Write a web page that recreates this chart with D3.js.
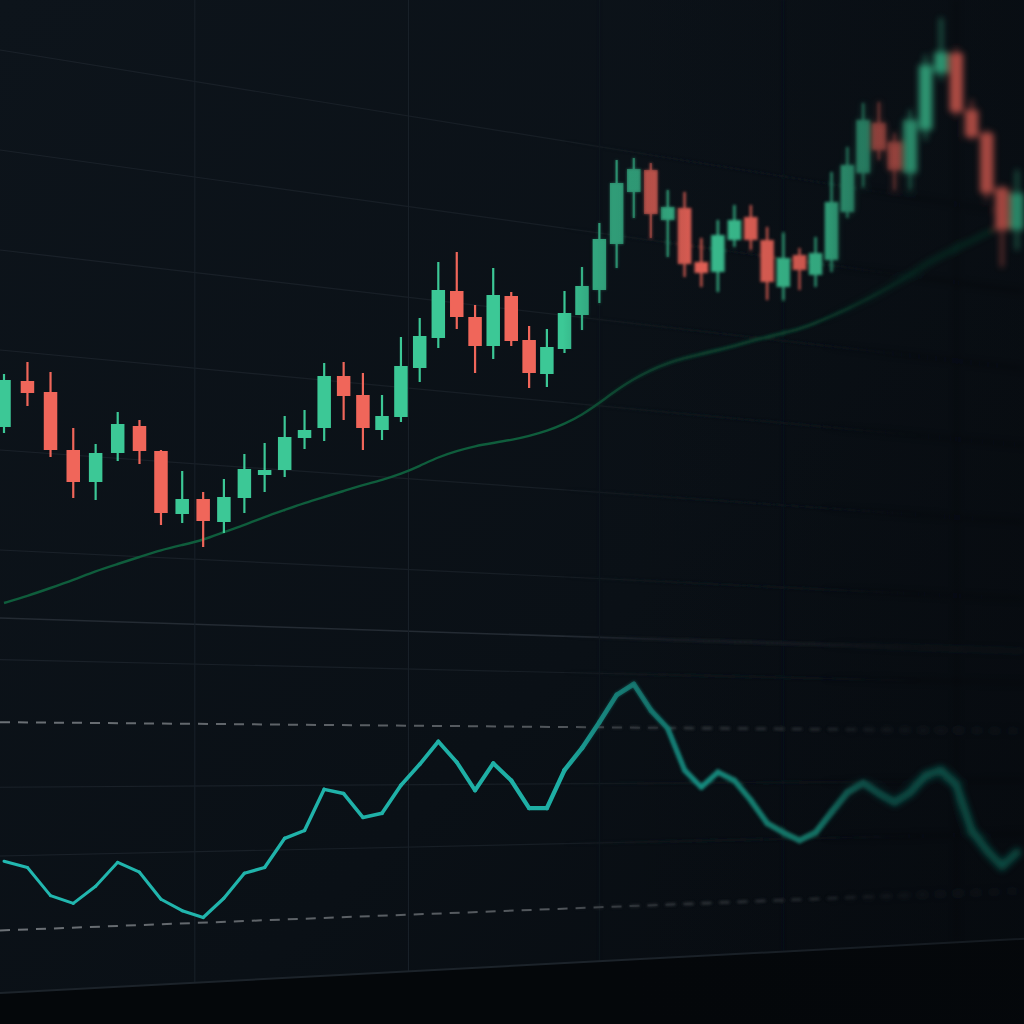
<!DOCTYPE html>
<html><head><meta charset="utf-8">
<script src="https://cdn.jsdelivr.net/npm/d3@7"></script>
<style>html,body{margin:0;padding:0;background:#0b1117;overflow:hidden}svg{display:block}</style>
</head><body>
<svg id="chart" width="1024" height="1024"></svg>
<script>
// ---- data ----
const opens  = [117.3,121.9,120.8,115.0,111.8,114.7,117.4,114.9,108.6,110.1,107.8,110.2,112.5,113.0,116.2,117.2,122.4,120.5,117.0,118.3,123.2,126.2,130.9,128.3,125.4,130.4,126.0,122.6,125.1,128.5,131.0,135.6,140.8,143.0,138.0,139.2,133.8,132.8,136.0,138.3,136.0,131.3,134.5,132.5,134.0,138.8,142.7,147.7,145.8,142.7,147.0,152.7,154.7,149.0,146.7,141.2,137.0];
const highs  = [122.6,123.8,122.8,117.2,115.6,118.8,118.0,115.0,112.9,110.8,112.1,114.6,115.7,118.4,119.0,123.7,123.8,122.7,120.5,126.3,128.2,133.8,134.8,129.5,133.2,130.8,127.4,127.1,130.9,133.3,137.7,144.0,144.2,143.7,141.0,140.8,136.2,138.0,139.5,139.5,137.3,136.7,135.2,136.3,142.8,145.3,149.7,149.8,146.7,149.0,154.5,158.2,155.0,150.0,147.0,141.5,143.0];
const lows   = [116.7,119.4,114.3,110.2,110.0,113.9,113.6,107.5,107.7,105.3,106.7,108.7,110.8,112.3,115.1,115.9,118.0,115.0,116.0,117.8,121.8,125.2,127.1,122.7,124.1,125.4,121.2,121.3,124.7,127.0,129.7,133.2,138.2,136.2,134.3,132.3,131.3,130.8,135.3,135.0,130.0,130.0,131.0,131.3,132.8,138.2,141.3,144.0,141.0,141.0,146.0,152.0,148.5,146.0,140.0,133.3,135.0];
const closes = [122.0,120.7,115.0,111.8,114.7,117.6,114.9,108.7,110.1,107.9,110.3,113.1,113.0,116.3,117.0,122.4,120.4,117.2,118.4,123.4,126.4,131.0,128.3,125.4,130.5,125.9,122.7,125.3,128.7,131.4,136.1,141.7,143.1,138.6,139.3,133.6,132.7,136.5,138.0,136.0,131.8,134.2,133.0,134.7,139.8,143.5,148.0,145.0,143.0,148.0,153.5,154.8,148.8,146.3,140.7,137.0,140.7];
const movingAvg = [99.7,100.4,101.2,102.0,102.9,103.6,104.3,105.0,105.5,106.0,106.8,107.5,108.3,109.0,109.7,110.3,110.9,111.5,112.0,112.6,113.4,114.3,114.9,115.4,115.7,116.0,116.4,116.9,117.6,118.5,119.7,121.0,122.1,123.0,123.7,124.2,124.6,125.0,125.4,125.9,126.3,126.7,127.1,127.7,128.4,129.1,129.9,130.7,131.6,132.5,133.6,134.4,135.2,135.9,136.7,137.4,138.1];
const rsiValues = [43.3,42.1,36.7,35.2,38.5,43.1,41.2,36.0,33.8,32.5,36.2,41.0,42.1,47.7,49.2,57.1,56.3,51.7,52.5,57.9,61.9,66.3,62.3,56.9,62.1,58.8,53.5,53.5,60.8,65.0,70.0,75.2,77.3,72.3,68.8,60.8,57.5,60.4,58.8,55.0,50.6,48.8,47.3,48.8,52.7,56.5,58.3,56.3,54.6,56.5,59.8,60.8,57.9,49.2,45.4,42.3,45.0];
const priceGridLevels = [105,115,125,135,145,155];
const rsiGridLevels = [82,57.5,44.3];
const rsiGuideLevels = [70,30];
const verticalGridIdx = [8.6,19.4,30,41,52];

const candles = opens.map((o,i)=>({i, o, h:highs[i], l:lows[i], c:closes[i]}));

// ---- scales ----
const W = 1024, H = 1024;
const xPow = d3.scalePow().exponent(0.66).domain([20, 76]).range([4, 1017]);
const x = i => xPow(i + 20);
const y = d3.scaleLinear().domain([100, 160]).range([600, 0]);
const yr = d3.scaleLinear().domain([18, 90]).range([993, 618]);

// perspective tilt for horizontal rules (vanishing point off to the right)
const VPX = 4400, VPY = 760;
const tilt = (px, y0) => y0 + (VPY - y0) * px / VPX;

const svg = d3.select('#chart');
const defs = svg.append('defs');

// background
const bg = defs.append('linearGradient').attr('id','bgGrad').attr('x1',0).attr('y1',0).attr('x2',1).attr('y2',1);
bg.append('stop').attr('offset','0%').attr('stop-color','#0d141b');
bg.append('stop').attr('offset','60%').attr('stop-color','#0a1016');
bg.append('stop').attr('offset','100%').attr('stop-color','#070b10');
svg.append('rect').attr('width',W).attr('height',H).attr('fill','url(#bgGrad)');

// blur filters
defs.append('filter').attr('id','blurMid').attr('x','-10%').attr('y','-10%').attr('width','120%').attr('height','120%')
  .append('feGaussianBlur').attr('stdDeviation',1.7);
defs.append('filter').attr('id','blurFar').attr('x','-10%').attr('y','-10%').attr('width','120%').attr('height','120%')
  .append('feGaussianBlur').attr('stdDeviation',3.4);

function gradMask(id, stops){
  const g = defs.append('linearGradient').attr('id',id+'G').attr('gradientUnits','userSpaceOnUse')
    .attr('x1',0).attr('y1',0).attr('x2',W).attr('y2',0);
  stops.forEach(s=>g.append('stop').attr('offset',s[0]).attr('stop-color',s[1]));
  defs.append('mask').attr('id',id).attr('maskUnits','userSpaceOnUse').attr('x',0).attr('y',0).attr('width',W).attr('height',H)
    .append('rect').attr('width',W).attr('height',H).attr('fill','url(#'+id+'G)');
}
gradMask('mSharp', [[0,'#fff'],[0.55,'#fff'],[0.68,'#000'],[1,'#000']]);
gradMask('mMid',   [[0,'#000'],[0.55,'#000'],[0.68,'#fff'],[0.80,'#fff'],[0.90,'#000'],[1,'#000']]);
gradMask('mFar',   [[0,'#000'],[0.80,'#000'],[0.90,'#fff'],[1,'#fff']]);

// rsi stroke colour gradient
const rg = defs.append('linearGradient').attr('id','rsiGrad').attr('gradientUnits','userSpaceOnUse')
  .attr('x1',0).attr('y1',0).attr('x2',W).attr('y2',0);
rg.append('stop').attr('offset','0%').attr('stop-color','#22b8b0');
rg.append('stop').attr('offset','55%').attr('stop-color','#1eaea4');
rg.append('stop').attr('offset','75%').attr('stop-color','#148a7a');
rg.append('stop').attr('offset','100%').attr('stop-color','#0e6e5e');

// fading for rules into the distance
const fg = defs.append('linearGradient').attr('id','ruleGrad').attr('gradientUnits','userSpaceOnUse')
  .attr('x1',0).attr('y1',0).attr('x2',W).attr('y2',0);
fg.append('stop').attr('offset','0%').attr('stop-color','#1a2129');
fg.append('stop').attr('offset','60%').attr('stop-color','#161d24');
fg.append('stop').attr('offset','100%').attr('stop-color','#10161c');
const dg = defs.append('linearGradient').attr('id','dashGrad').attr('gradientUnits','userSpaceOnUse')
  .attr('x1',0).attr('y1',0).attr('x2',W).attr('y2',0);
dg.append('stop').attr('offset','0%').attr('stop-color','#6c7176');
dg.append('stop').attr('offset','55%').attr('stop-color','#50555a');
dg.append('stop').attr('offset','100%').attr('stop-color','#22272c');

const GREEN = '#3cc896', RED = '#f0665a';

function drawContent(g){
  // price gridlines
  g.append('g').selectAll('line').data(priceGridLevels).join('line')
    .attr('x1',0).attr('y1',d=>y(d)).attr('x2',W).attr('y2',d=>tilt(W,y(d)))
    .attr('stroke','url(#ruleGrad)').attr('stroke-width',1.2);
  // panel separator
  g.append('line').attr('x1',0).attr('y1',yr(90)).attr('x2',W).attr('y2',tilt(W,yr(90)))
    .attr('stroke','#242b33').attr('stroke-width',1.6);
  // rsi gridlines
  g.append('g').selectAll('line').data(rsiGridLevels).join('line')
    .attr('x1',0).attr('y1',d=>yr(d)).attr('x2',W).attr('y2',d=>tilt(W,yr(d)))
    .attr('stroke','url(#ruleGrad)').attr('stroke-width',1.2);
  // vertical gridlines
  g.append('g').selectAll('line').data(verticalGridIdx).join('line')
    .attr('x1',d=>x(d)).attr('x2',d=>x(d)).attr('y1',0).attr('y2',d=>tilt(x(d),yr(18)))
    .attr('stroke',(d,k)=>k<2?'#182028':'#121920').attr('stroke-width',1.1);
  // rsi guide (dashed) lines
  g.append('g').selectAll('line').data(rsiGuideLevels).join('line')
    .attr('x1',0).attr('y1',d=>yr(d)).attr('x2',W).attr('y2',d=>tilt(W,yr(d)))
    .attr('stroke','url(#dashGrad)').attr('stroke-width',2).attr('stroke-dasharray','10,8');

  // moving average
  g.append('path').datum(movingAvg)
    .attr('d', d3.line().x((d,i)=>x(i)).y(d=>y(d)).curve(d3.curveBasis))
    .attr('fill','none').attr('stroke','#0f5d3c').attr('stroke-width',2.4);

  // candles
  const cg = g.append('g').selectAll('g').data(candles).join('g');
  const bw = 13.5;
  cg.append('line')
    .attr('x1',d=>x(d.i)).attr('x2',d=>x(d.i))
    .attr('y1',d=>y(d.h)).attr('y2',d=>y(d.l))
    .attr('stroke',d=>d.c>=d.o?GREEN:RED).attr('stroke-width',2.2);
  cg.append('rect')
    .attr('x',d=>x(d.i)-bw/2).attr('width',bw)
    .attr('y',d=>y(Math.max(d.o,d.c)))
    .attr('height',d=>Math.max(3, Math.abs(y(d.o)-y(d.c))))
    .attr('fill',d=>d.c>=d.o?GREEN:RED);

  // rsi line, thickening with depth
  const seg = rsiValues.slice(1).map((v,k)=>({a:k, b:k+1}));
  g.append('g').selectAll('line').data(seg).join('line')
    .attr('x1',d=>x(d.a)).attr('y1',d=>yr(rsiValues[d.a]))
    .attr('x2',d=>x(d.b)).attr('y2',d=>yr(rsiValues[d.b]))
    .attr('stroke','url(#rsiGrad)')
    .attr('stroke-linecap','round')
    .attr('stroke-width',d=>{const t=x(d.a)/W; return 3 + 5*t*t;});
}

drawContent(svg.append('g').attr('mask','url(#mSharp)'));
drawContent(svg.append('g').attr('mask','url(#mMid)').attr('filter','url(#blurMid)'));
drawContent(svg.append('g').attr('mask','url(#mFar)').attr('filter','url(#blurFar)'));

// dark floor below the chart edge
svg.append('path')
  .attr('d', `M0,${yr(18)} L${W},${tilt(W,yr(18))} L${W},${H} L0,${H} Z`)
  .attr('fill','#04070a');
svg.append('line').attr('x1',0).attr('y1',yr(18)).attr('x2',W).attr('y2',tilt(W,yr(18)))
  .attr('stroke','#1c232a').attr('stroke-width',2);

// depth darkening on the far side
const dk = defs.append('linearGradient').attr('id','dark').attr('x1',0).attr('y1',0).attr('x2',1).attr('y2',0);
dk.append('stop').attr('offset','0%').attr('stop-color','#05080c').attr('stop-opacity',0);
dk.append('stop').attr('offset','60%').attr('stop-color','#05080c').attr('stop-opacity',0);
dk.append('stop').attr('offset','100%').attr('stop-color','#05080c').attr('stop-opacity',0.35);
svg.append('rect').attr('width',W).attr('height',H).attr('fill','url(#dark)').attr('pointer-events','none');
</script>
</body></html>
